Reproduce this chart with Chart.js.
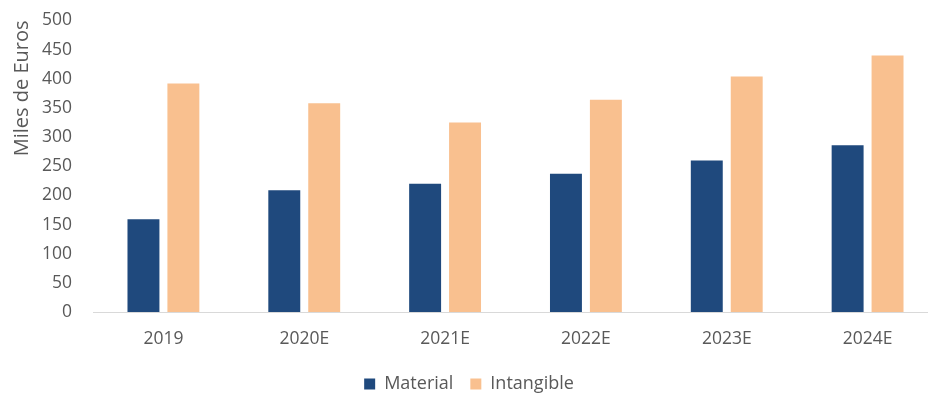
<!DOCTYPE html>
<html>
<head>
<meta charset="utf-8">
<script src="https://cdn.jsdelivr.net/npm/chart.js@4"></script>
<style>
html,body{margin:0;padding:0;background:#fff;overflow:hidden;width:928px;height:393px;}
#wrap{width:928px;height:393px;overflow:hidden;position:relative;}
canvas{display:block;position:absolute;left:0;top:-11px;}
</style>
</head>
<body>
<div id="wrap"><canvas id="c" width="946" height="414"></canvas></div>
<script>
const categories = ['2019','2020E','2021E','2022E','2023E','2024E'];
const material = [159, 209, 220, 237, 260, 286];
const intangible = [392, 358, 325, 364, 404, 440];
const yTicks = [0,50,100,150,200,250,300,350,400,450,500];

const textColor = '#595959';
const font = "'Open Sans', 'Noto Sans', sans-serif";

new Chart(document.getElementById('c'), {
  type: 'bar',
  data: {
    labels: categories,
    datasets: [
      { label: 'Material', data: material, backgroundColor: '#1F497D', borderWidth: 0,
        categoryPercentage: 0.567, barPercentage: 0.8 },
      { label: 'Intangible', data: intangible, backgroundColor: '#F9C08F', borderWidth: 0,
        categoryPercentage: 0.567, barPercentage: 0.8 }
    ]
  },
  options: {
    responsive: false,
    animation: false,
    devicePixelRatio: 1,
    layout: { padding: { top: 0, right: 8, bottom: 0, left: 0 } },
    plugins: {
      legend: {
        position: 'bottom',
        labels: { boxWidth: 11, boxHeight: 11, color: textColor, font: { family: font, size: 18 }, padding: 17 }
      },
      tooltip: { enabled: false }
    },
    scales: {
      x: {
        afterFit: (axis) => { axis.height = 46; },
        grid: { display: false, drawTicks: false },
        border: { display: true, color: '#D9D9D9', width: 1 },
        ticks: { color: textColor, font: { family: font, size: 17.5 }, padding: 17 }
      },
      y: {
        min: 0, max: 500,
        afterBuildTicks: (axis) => { axis.ticks = yTicks.map(v => ({ value: v })); },
        afterFit: (axis) => { axis.width = 93; },
        grid: { display: false, drawTicks: false },
        border: { display: false },
        ticks: { color: textColor, font: { family: font, size: 17.5 }, padding: 21 },
        title: { display: true, text: 'Miles de Euros', align: 'end', color: textColor, font: { family: font, size: 20 }, padding: { top: 10, bottom: 0 } }
      }
    }
  }
});
</script>
</body>
</html>
